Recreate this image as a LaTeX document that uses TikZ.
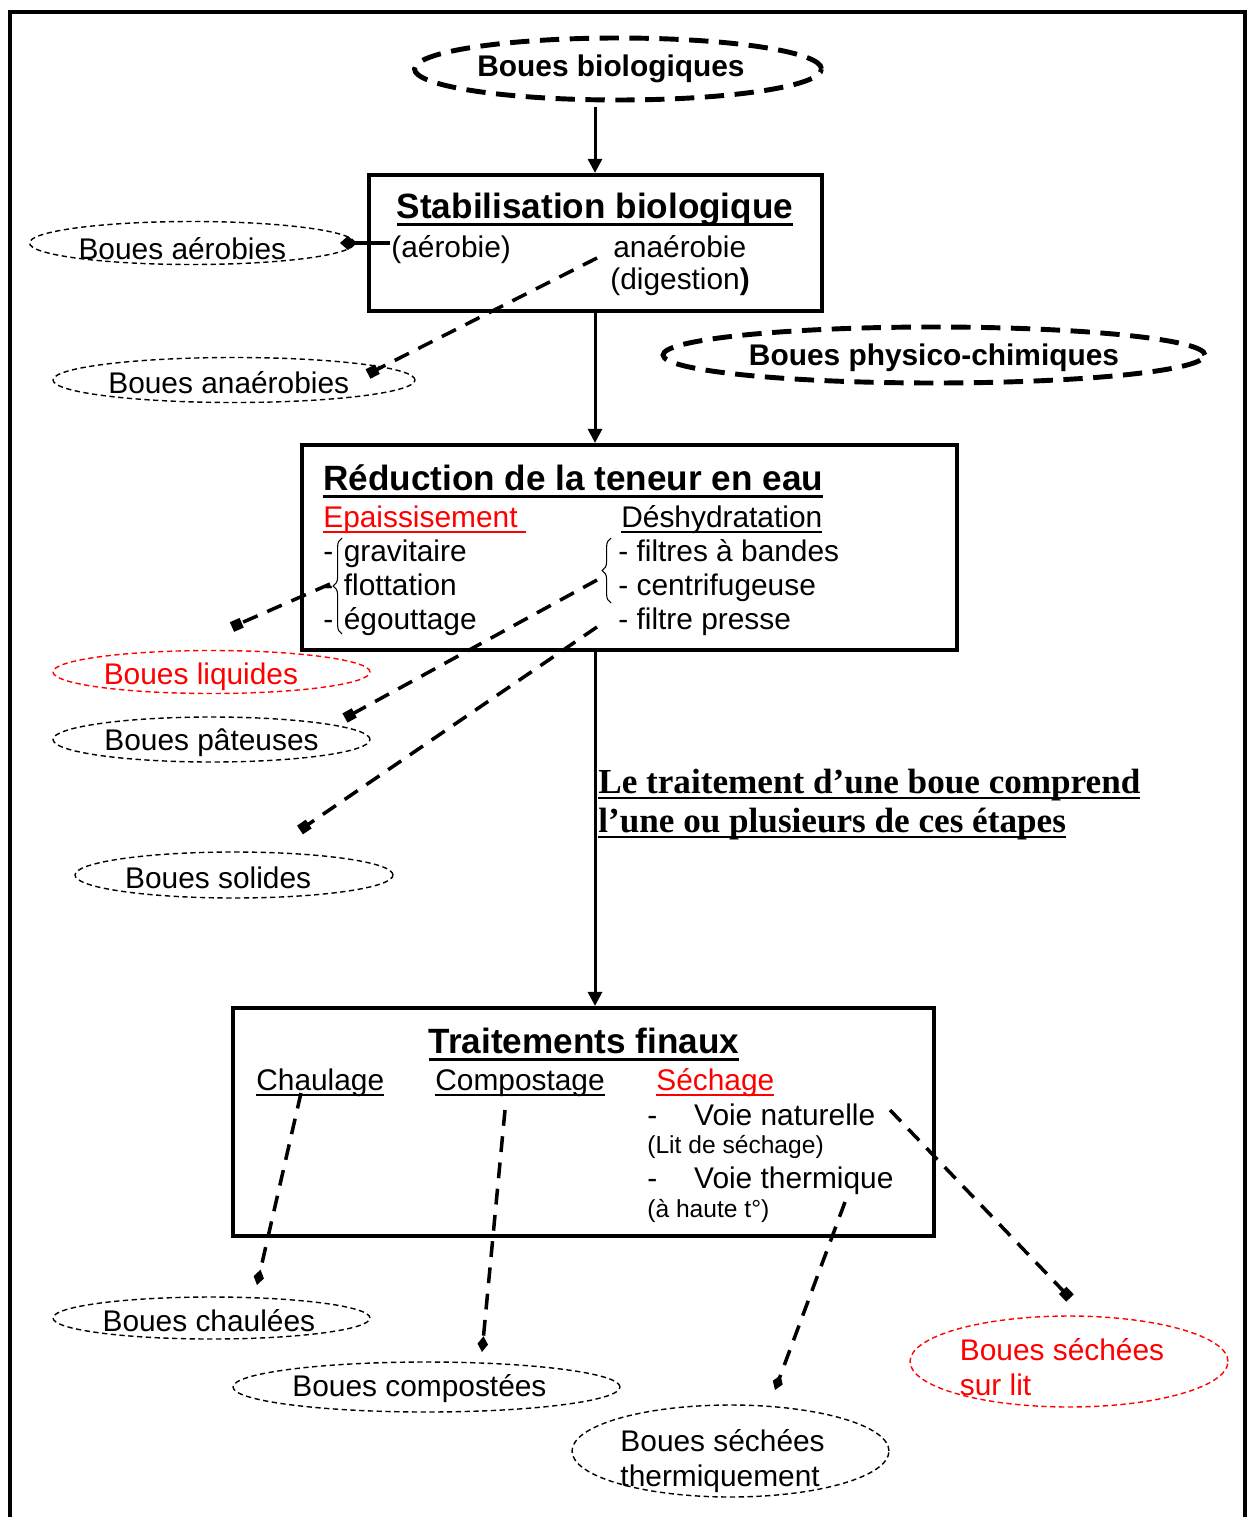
\documentclass[tikz,border=0pt]{standalone}
\usepackage{fontspec}
\setmainfont{Liberation Sans}
\newfontfamily\serifbold{Liberation Serif}
\usetikzlibrary{shapes.geometric,arrows.meta,decorations.pathreplacing}

\newcommand{\ulby}[3]{\setbox0=\hbox{#3}\hbox{\rlap{\copy0}\rule[-#1]{\wd0}{#2}}}
\newcommand{\ulin}[1]{\ulby{3.6pt}{1.1pt}{#1}}
\newcommand{\ulhead}[1]{\ulby{4.6pt}{1.7pt}{#1}}

\begin{document}
\begin{tikzpicture}[x=0.02cm,y=-0.02cm,
  box/.style={draw, rectangle, line width=2.4pt, inner sep=0},
  blob/.style={draw, ellipse, line width=0.8pt, dash pattern=on 3pt off 2pt, inner sep=0},
  bigblob/.style={draw, ellipse, line width=2.8pt, dash pattern=on 11pt off 6pt, inner sep=0},
  lbl/.style={inner sep=0, font=\fontsize{17}{20}\selectfont},
  biglbl/.style={inner sep=0, font=\bfseries\fontsize{17}{20}\selectfont},
  flow/.style={line width=1.7pt, -{Triangle[length=8pt,width=8pt]}},
  link/.style={line width=2pt, dash pattern=on 9pt off 6pt},
  sq/.style={-{Square[length=6pt,width=6pt]}},
  dm/.style={-{Diamond[length=9pt,width=6pt]}},
  txt/.style={anchor=base west, inner sep=0, font=\fontsize{17}{20}\selectfont},
  small/.style={anchor=base west, inner sep=0, font=\fontsize{14}{16}\selectfont},
  head/.style={anchor=base, inner sep=0, font=\bfseries\fontsize{20}{24}\selectfont},
  brc/.style={decorate, decoration={brace, amplitude=5pt}, line width=0.6pt}
]
\useasboundingbox (0,0) rectangle (1251,1517);

% Outer frame
\draw[line width=2.8pt] (10,1520) -- (10,12) -- (1245,12) -- (1245,1520);

% Spine of the process
\coordinate (spine) at (595,0);

% Top sludge
\node[bigblob, minimum width=8.14cm, minimum height=1.24cm,
  label={[biglbl, xshift=-4pt]center:Boues biologiques}] (bio) at (618,69) {};

% Stabilisation
\node[box, minimum width=9.06cm, minimum height=2.72cm] (stab) at (595.5,243) {};
\node[head] (stabT) at (595,218) {\ulhead{Stabilisation biologique}};
\node[txt] (aerob) at (391,257) {(aérobie)};
\node[txt] (anaerob) at (613,257) {anaérobie};
\node[txt] (digest) at (610,289) {(digestion\textbf{)}};

\node[blob, minimum width=6.5cm, minimum height=0.86cm,
  label={[lbl, xshift=-5.5pt, yshift=-3pt]center:Boues aérobies}] (aer) at (192,243) {};
\node[blob, minimum width=7.24cm, minimum height=0.9cm,
  label={[lbl, xshift=-3pt, yshift=-1.5pt]center:Boues anaérobies}] (ana) at (234,380) {};
\node[bigblob, minimum width=10.84cm, minimum height=1.12cm,
  label={[biglbl, yshift=-1.5pt]center:Boues physico-chimiques}] (phys) at (934,355) {};

% Reduction de la teneur en eau
\node[box, minimum width=13.1cm, minimum height=4.1cm] (red) at (629.5,547.5) {};
\node[head, anchor=base west] (redT) at (323,490) {\ulhead{Réduction de la teneur en eau}};
\node[txt, text=red] (epais) at (323,527) {\ulin{Epaissisement\ }};
\node[txt] (deshy) at (621,527) {\ulin{Déshydratation}};
\node[txt] (grav) at (323,561) {-\hspace{6pt}gravitaire};
\node[txt] (flot) at (323,595) {-\hspace{6pt}flottation};
\node[txt] (egou) at (323,629) {-\hspace{6pt}égouttage};
\node[txt] (filt) at (618,561) {- filtres à bandes};
\node[txt] (cent) at (618,595) {- centrifugeuse};
\node[txt] (pres) at (618,629) {- filtre presse};
\draw[brc] (342,634) -- (342,538);
\draw[brc] (611,603) -- (611,538);

\node[blob, draw=red, minimum width=6.34cm, minimum height=0.86cm,
  label={[lbl, text=red, xshift=-6pt, yshift=-2.5pt]center:Boues liquides}] (liq) at (211.5,672) {};
\node[blob, minimum width=6.34cm, minimum height=0.9cm,
  label={[lbl, yshift=-2pt]center:Boues pâteuses}] (pat) at (211.5,739.5) {};
\node[blob, minimum width=6.36cm, minimum height=0.92cm,
  label={[lbl, xshift=-9pt, yshift=-1.5pt]center:Boues solides}] (sol) at (234,875) {};

% Note on the side of the spine
\node[anchor=base west, inner sep=0, font=\serifbold\bfseries\fontsize{20}{24}\selectfont] (note1) at (598,793) {\ulin{Le traitement d’une boue comprend}};
\node[anchor=base west, inner sep=0, font=\serifbold\bfseries\fontsize{20}{24}\selectfont] (note2) at (598,832) {\ulin{l’une ou plusieurs de ces étapes}};

% Traitements finaux
\node[box, minimum width=14.02cm, minimum height=4.56cm] (fin) at (583.5,1122) {};
\node[head] (finT) at (584,1053) {\ulhead{Traitements finaux}};
\node[txt] (chau) at (256,1090) {\ulin{Chaulage}};
\node[txt] (comp) at (435,1090) {\ulin{Compostage}};
\node[txt, text=red] (sech) at (656,1090) {\ulin{Séchage}};
\node[txt] (natu) at (647,1125) {-\hspace{21pt}Voie naturelle};
\node[small] (lit) at (647,1153) {(Lit de séchage)};
\node[txt] (therm) at (647,1188) {-\hspace{21pt}Voie thermique};
\node[small] (haute) at (647,1217) {(à haute t°)};

\node[blob, minimum width=6.34cm, minimum height=0.84cm,
  label={[lbl, xshift=-1.5pt, yshift=-1.5pt]center:Boues chaulées}] (chal) at (211.5,1318) {};
\node[blob, minimum width=7.74cm, minimum height=1.0cm,
  label={[lbl, xshift=-4pt, yshift=-1pt]center:Boues compostées}] (compo) at (426.5,1387) {};
\node[blob, minimum width=6.34cm, minimum height=1.84cm,
  label={[lbl, align=left, xshift=-4.5pt, yshift=-5.5pt]center:Boues séchées\\thermiquement}] (sthe) at (730.5,1451) {};
\node[blob, draw=red, minimum width=6.36cm, minimum height=1.82cm,
  label={[lbl, text=red, align=left, xshift=-4pt, yshift=-3pt]center:Boues séchées\\sur lit}] (slit) at (1069,1361.5) {};

% Main flow
\draw[flow] (spine |- bio.south) ++(0,5) -- (stab.north -| spine);
\draw[flow] (stab.south -| spine) -- (red.north -| spine);
\draw[flow] (red.south -| spine) -- (fin.north -| spine);

% Free ends of the links
\coordinate (aerStart) at (390,243);
\coordinate (aerEnd) at (340,243);
\coordinate (anaStart) at (597,258);
\coordinate (anaEnd) at (368,374);
\coordinate (liqStart) at (330,584);
\coordinate (liqEnd) at (232,627);
\coordinate (patStart) at (597,580);
\coordinate (patEnd) at (345,718);
\coordinate (solStart) at (597,627);
\coordinate (solEnd) at (300,830);
\coordinate (chaStart) at (301,1093);
\coordinate (chaEnd) at (257,1285);
\coordinate (comStart) at (505,1110);
\coordinate (comEnd) at (482,1352);
\coordinate (theStart) at (845,1202);
\coordinate (theEnd) at (775,1390);
\coordinate (litStart) at (890,1110);
\coordinate (litEnd) at (1070,1298);

% Links to the sludge types
\draw[line width=1.8pt, -{Diamond[length=9pt,width=8pt]}] (aerStart) -- (aerEnd);
\draw[link, sq] (anaStart) -- (anaEnd);
\draw[link, sq] (liqStart) -- (liqEnd);
\draw[link, sq] (patStart) -- (patEnd);
\draw[link, sq] (solStart) -- (solEnd);
\draw[link, dm] (chaStart) -- (chaEnd);
\draw[link, dm] (comStart) -- (comEnd);
\draw[link, dm] (theStart) -- (theEnd);
\draw[link, sq] (litStart) -- (litEnd);
\end{tikzpicture}
\end{document}
